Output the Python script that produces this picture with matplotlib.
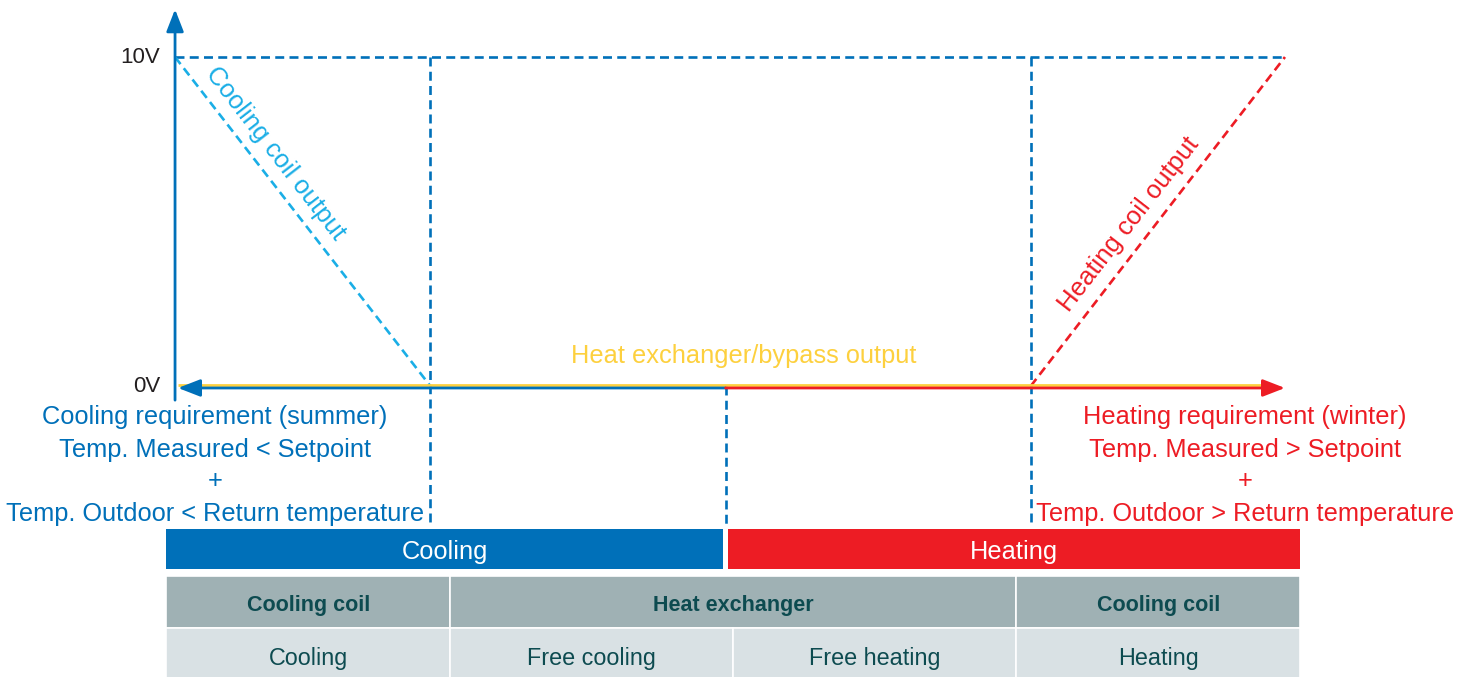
import matplotlib.pyplot as plt
from matplotlib.patches import Rectangle

plt.rcParams['font.family'] = ['Liberation Sans', 'DejaVu Sans']

# signal positions (% of control signal) and output voltages
signal_max = 100
cooling_end = 23.0
mid_point = 49.6
heating_start = 77.1
v_min = 0
v_max = 10
volt_ticks = [0, 10]
volt_labels = ['0V', '10V']

cooling_x = [0, cooling_end]
cooling_v = [10, 0]
heating_x = [heating_start, signal_max]
heating_v = [0, 10]

cooling_text = ['Cooling requirement (summer)', 'Temp. Measured < Setpoint', '+',
                'Temp. Outdoor < Return temperature']
heating_text = ['Heating requirement (winter)', 'Temp. Measured > Setpoint', '+',
                'Temp. Outdoor > Return temperature']
bands = ['Cooling', 'Heating']
table_header = ['Cooling coil', 'Heat exchanger', 'Cooling coil']
table_row = ['Cooling', 'Free cooling', 'Free heating', 'Heating']

# colours
blue = '#0070b9'
light_blue = '#1aaee6'
red = '#ed1c24'
yellow = '#fdd03e'
head_grey = '#9fb1b4'
row_grey = '#d9e1e4'
teal = '#0d4b50'

fig = plt.figure(figsize=(14.71, 6.77), dpi=100)
ax = fig.add_axes([0, 0, 1, 1])
ax.set_xlim(-15.77, 116.76)
ax.set_ylim(-8.845, 11.733)
ax.axis('off')

dash = dict(lw=1.9, dashes=(3.4, 2.0))

# guides
ax.plot([0, signal_max], [v_max, v_max], color=blue, **dash)
ax.plot([cooling_end, cooling_end], [v_max, -4.29], color=blue, **dash)
ax.plot([heating_start, heating_start], [v_max, -4.29], color=blue, **dash)
ax.plot([mid_point, mid_point], [v_min, -4.29], color=blue, **dash)

# coil outputs
ax.plot(cooling_x, cooling_v, color=light_blue, **dash)
ax.plot(heating_x, heating_v, color=red, **dash)

# heat exchanger line
ax.plot([0.3, 98.2], [0.04, 0.04], color=yellow, lw=2.0, solid_capstyle='butt', zorder=3)

arrow = '-|>,head_length=0.9,head_width=0.35'
ax.annotate('', xy=(0, 11.45), xytext=(0, -0.43),
            arrowprops=dict(arrowstyle=arrow, color=blue, lw=2.0, mutation_scale=15,
                            shrinkA=0, shrinkB=0), zorder=4)
ax.annotate('', xy=(0.27, -0.06), xytext=(mid_point, -0.06),
            arrowprops=dict(arrowstyle=arrow, color=blue, lw=2.0, mutation_scale=15,
                            shrinkA=0, shrinkB=0), zorder=4)
ax.annotate('', xy=(signal_max, -0.06), xytext=(mid_point, -0.06),
            arrowprops=dict(arrowstyle=arrow, color=red, lw=2.0, mutation_scale=15,
                            shrinkA=0, shrinkB=0), zorder=4)

for v, lab in zip(volt_ticks, volt_labels):
    ax.text(-1.35, v, lab, ha='right', va='center', fontsize=16, color='#231f20')

ax.text(9.0, 7.08, 'Cooling coil output', rotation=-52.2, rotation_mode='anchor',
        ha='center', va='center', fontsize=18.5, color=light_blue)
ax.text(85.95, 4.92, 'Heating coil output', rotation=52.2, rotation_mode='anchor',
        ha='center', va='center', fontsize=18.5, color=red)
ax.text(51.2, 0.9, 'Heat exchanger/bypass output', ha='center', va='center',
        fontsize=18.3, color=yellow)

line_y = [-0.93, -1.93, -2.9, -3.9]
for y, t in zip(line_y, cooling_text):
    ax.text(3.6, y, t, ha='center', va='center', fontsize=18.3, color=blue)
for y, t in zip(line_y, heating_text):
    ax.text(96.4, y, t, ha='center', va='center', fontsize=18.3, color=red)

# bands and table
tb = fig.add_axes([0, 0, 1, 148 / 677])
tb.set_xlim(-15.77, 116.76)
tb.set_ylim(148, 0)
tb.axis('off')

band_spans = [(-0.8, 49.4), (49.8, 101.35)]
for (x0, x1), name, col in zip(band_spans, bands, [blue, red]):
    tb.add_patch(Rectangle((x0, 0), x1 - x0, 40, color=col, lw=0))
    tb.text((x0 + x1) / 2, 23, name, ha='center', va='center', fontsize=18.3, color='white')

head_edges = [-0.8, 24.8, 75.8, 101.35]
for i, name in enumerate(table_header):
    x0, x1 = head_edges[i], head_edges[i + 1]
    tb.add_patch(Rectangle((x0, 47), x1 - x0, 52, facecolor=head_grey,
                           edgecolor='white', lw=1.2))
    tb.text((x0 + x1) / 2, 76, name, ha='center', va='center', fontsize=15.5,
            fontweight='bold', color=teal)

row_edges = [-0.8, 24.8, 50.3, 75.8, 101.35]
for i, name in enumerate(table_row):
    x0, x1 = row_edges[i], row_edges[i + 1]
    tb.add_patch(Rectangle((x0, 99), x1 - x0, 52, facecolor=row_grey,
                           edgecolor='white', lw=1.2))
    tb.text((x0 + x1) / 2, 129, name, ha='center', va='center', fontsize=16.8, color=teal)

fig.savefig('out.png', dpi=100)
